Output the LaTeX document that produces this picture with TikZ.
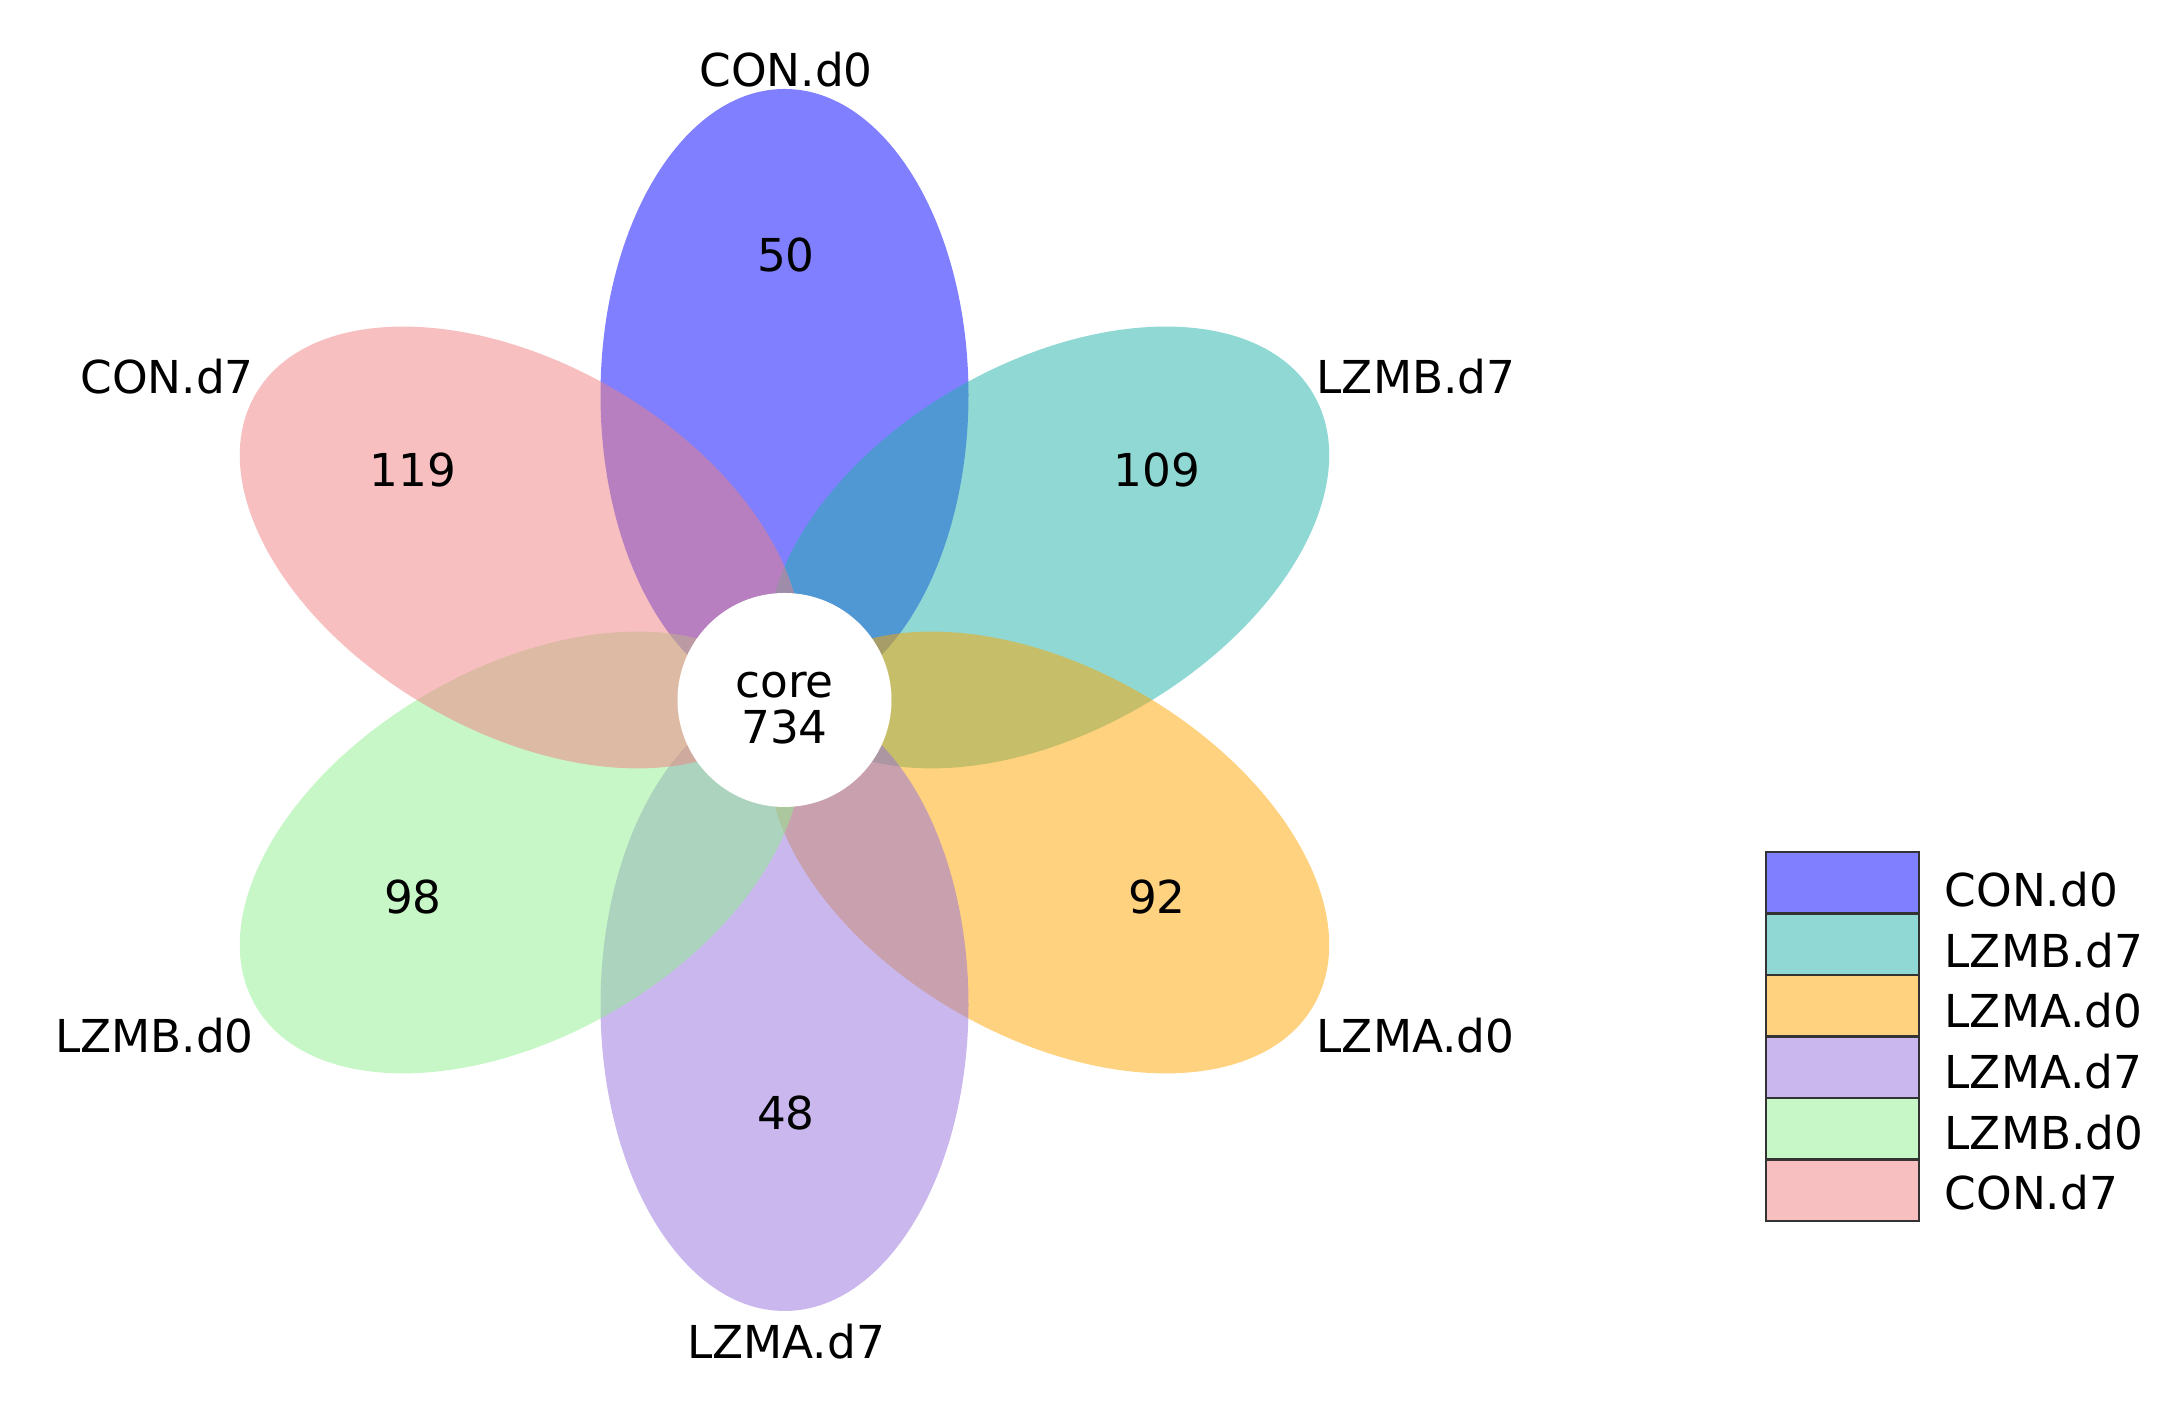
\documentclass[tikz,border=0pt]{standalone}
\usepackage{fontspec}
\setmainfont{DejaVu Sans}
\definecolor{conzero}{RGB}{0,0,255}
\definecolor{lzmbseven}{RGB}{32,178,170}
\definecolor{lzmazero}{RGB}{255,165,0}
\definecolor{lzmaseven}{RGB}{147,112,219}
\definecolor{lzmbzero}{RGB}{144,238,144}
\definecolor{conseven}{RGB}{240,128,128}
\tikzset{
  lbl/.style={font=\fontsize{12.9}{12.9}\selectfont, inner sep=0pt},
  petal/.style={fill=#1, fill opacity=.5},
  key/.style={fill=#1, fill opacity=.5, draw=black!80, draw opacity=1, line width=.8pt}
}
\begin{document}
\begin{tikzpicture}
\useasboundingbox (0,0) rectangle (21.81,14.04);
% petals, drawn in legend order
\fill[petal=conzero, rotate around={90:(7.845,7.04)}] (10.895,7.04) ellipse (3.06 and 1.84);
\fill[petal=lzmbseven, rotate around={30:(7.845,7.04)}] (10.895,7.04) ellipse (3.06 and 1.84);
\fill[petal=lzmazero, rotate around={-30:(7.845,7.04)}] (10.895,7.04) ellipse (3.06 and 1.84);
\fill[petal=lzmaseven, rotate around={-90:(7.845,7.04)}] (10.895,7.04) ellipse (3.06 and 1.84);
\fill[petal=lzmbzero, rotate around={-150:(7.845,7.04)}] (10.895,7.04) ellipse (3.06 and 1.84);
\fill[petal=conseven, rotate around={150:(7.845,7.04)}] (10.895,7.04) ellipse (3.06 and 1.84);
% core
\fill[white] (7.845,7.04) circle (1.07);
\node[lbl, align=center] (core) at (7.845,6.96) {core\\734};
% counts
\node[lbl] (nconzero) at (7.86,11.49) {50};
\node[lbl] (nlzmbseven) at (11.57,9.34) {109};
\node[lbl] (nlzmazero) at (11.57,5.07) {92};
\node[lbl] (nlzmaseven) at (7.86,2.91) {48};
\node[lbl] (nlzmbzero) at (4.13,5.07) {98};
\node[lbl] (nconseven) at (4.13,9.34) {119};
% set names
\node[lbl] (tconzero) at (7.86,13.34) {CON.d0};
\node[lbl, anchor=west] (tlzmbseven) at (13.16,10.27) {LZMB.d7};
\node[lbl, anchor=west] (tlzmazero) at (13.16,3.68) {LZMA.d0};
\node[lbl] (tlzmaseven) at (7.86,0.62) {LZMA.d7};
\node[lbl, anchor=east] (tlzmbzero) at (2.545,3.68) {LZMB.d0};
\node[lbl, anchor=east] (tconseven) at (2.545,10.27) {CON.d7};
% legend
\draw[key=conzero] (17.66,5.52) rectangle (19.19,4.905);
\draw[key=lzmbseven] (17.66,4.905) rectangle (19.19,4.29);
\draw[key=lzmazero] (17.66,4.29) rectangle (19.19,3.675);
\draw[key=lzmaseven] (17.66,3.675) rectangle (19.19,3.06);
\draw[key=lzmbzero] (17.66,3.06) rectangle (19.19,2.445);
\draw[key=conseven] (17.66,2.445) rectangle (19.19,1.83);
\node[lbl, anchor=base west] (kconzero) at (19.44,4.97) {CON.d0};
\node[lbl, anchor=base west] (klzmbseven) at (19.44,4.364) {LZMB.d7};
\node[lbl, anchor=base west] (klzmazero) at (19.44,3.76) {LZMA.d0};
\node[lbl, anchor=base west] (klzmaseven) at (19.44,3.152) {LZMA.d7};
\node[lbl, anchor=base west] (klzmbzero) at (19.44,2.546) {LZMB.d0};
\node[lbl, anchor=base west] (kconseven) at (19.44,1.94) {CON.d7};
\end{tikzpicture}
\end{document}
